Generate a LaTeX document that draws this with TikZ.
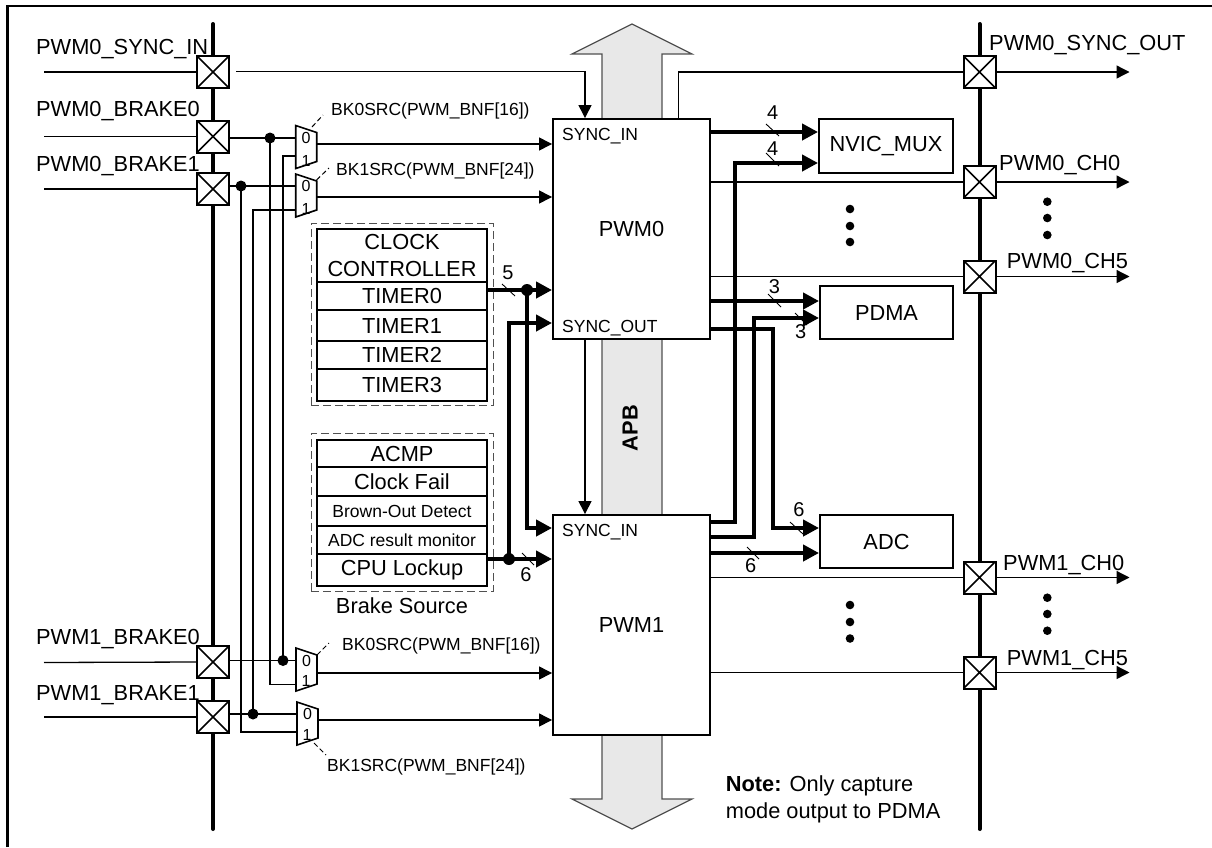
\documentclass[tikz,border=0pt]{standalone}
\usepackage{fontspec}
\setmainfont{Liberation Sans}
\usepackage{tikz}
\usetikzlibrary{shapes,arrows.meta,positioning,calc}
\definecolor{apbgray}{RGB}{232, 232, 232}
\definecolor{apbedge}{RGB}{80, 80, 80}
\newcommand{\bigfont}{\fontsize{21.8}{27.5}\selectfont}
\newcommand{\smallfont}{\fontsize{17.5}{21}\selectfont}
\tikzset{
    thinwire/.style={line width=1.3pt},
    thinarrow/.style={thinwire, -{Triangle[length=13pt, width=13pt]}},
    thickwire/.style={line width=4pt},
    thickarrow/.style={thickwire, -{Triangle[length=16pt, width=16pt]}},
    buswire/.style={line width=4pt, line cap=round},
    slashtick/.style={line width=0.9pt},
    srcdash/.style={line width=1pt, dash pattern=on 5pt off 3pt},
    padbox/.style={draw, fill=white, line width=2pt, minimum size=32pt, inner sep=0pt,
        path picture={\draw[line width=1.5pt] (path picture bounding box.north west) -- (path picture bounding box.south east)
            (path picture bounding box.north east) -- (path picture bounding box.south west);}},
    muxcell/.style={inner sep=0pt, outer sep=0pt, minimum width=21pt, minimum height=43pt,
        append after command={\pgfextra{\draw[line width=1.6pt, fill=white] (\tikzlastnode.north west)
            -- ([yshift=-7pt]\tikzlastnode.north east) -- ([yshift=7pt]\tikzlastnode.south east)
            -- (\tikzlastnode.south west) -- cycle;}}},
    blockbox/.style={draw, fill=white, line width=1.9pt, font=\bigfont, inner sep=0pt},
    rowcell/.style={draw, fill=white, line width=1.9pt, minimum width=170pt, inner sep=0pt, align=center, font=\bigfont},
    srcframe/.style={draw, line width=1pt, color=apbedge, dash pattern=on 8pt off 4pt, minimum width=182pt, inner sep=0pt},
    padlabel/.style={anchor=base west, inner sep=0pt, font=\bigfont},
    selectlabel/.style={anchor=base west, inner sep=0pt, font=\smallfont},
    pinlabel/.style={inner sep=0pt, font=\smallfont},
    muxbit/.style={inner sep=0pt, font=\fontsize{16}{16}\selectfont},
    widthlabel/.style={inner sep=0pt, font=\fontsize{20}{20}\selectfont},
    wiredot/.style={circle, fill=black, inner sep=0pt, minimum size=11pt},
    moredot/.style={circle, fill=black, inner sep=0pt, minimum size=8.6pt}
}

\begin{document}
\begin{tikzpicture}[x=1pt, y=-1pt]
    \useasboundingbox (0, 0) rectangle (1212, 847);

    % Frame
    \draw[line width=2.2pt] (7.5, 847) -- (7.5, 6) -- (1212, 6);

    % Buses
    \draw[buswire] (213, 24) -- (213, 829);
    \draw[buswire] (979.5, 24) -- (979.5, 829);

    % APB arrow
    \draw[line width=1.2pt, color=apbedge, fill=apbgray]
        (632, 24) -- (692, 54) -- (662, 54) -- (662, 799) -- (692, 799) -- (632, 829)
        -- (572, 799) -- (602, 799) -- (602, 54) -- (572, 54) -- cycle;
    \node[rotate=90, font=\bfseries\bigfont, inner sep=0pt] (apblabel) at (630, 428) {APB};

    % Main blocks
    \node[blockbox, minimum width=157pt, minimum height=220pt] (pwma) at (631.5, 229) {PWM0};
    \node[blockbox, minimum width=157pt, minimum height=220pt] (pwmb) at (631.5, 625) {PWM1};
    \node[pinlabel, anchor=base west] (syncina) at (562, 140) {SYNC\_IN};
    \node[pinlabel, anchor=base west] (syncouta) at (562, 332) {SYNC\_OUT};
    \node[pinlabel, anchor=base west] (syncinb) at (562, 536) {SYNC\_IN};

    % Targets
    \node[blockbox, minimum width=134pt, minimum height=53.5pt] (nvic) at (886, 146) {NVIC\_MUX};
    \node[blockbox, minimum width=133pt, minimum height=53pt] (pdma) at (886.5, 312.5) {PDMA};
    \node[blockbox, minimum width=133pt, minimum height=53pt] (adc) at (886.5, 541.5) {ADC};

    % Left pads
    \node[padbox] (syncpad) at (213, 72) {};
    \node[padbox] (brakeaa) at (213, 136.5) {};
    \node[padbox] (brakeab) at (213, 189) {};
    \node[padbox] (brakeba) at (213, 662) {};
    \node[padbox] (brakebb) at (213, 717) {};
    \node[padlabel] (syncpadtext) at (36, 54) {PWM0\_SYNC\_IN};
    \node[padlabel] (brakeaatext) at (36, 116.7) {PWM0\_BRAKE0};
    \node[padlabel] (brakeabtext) at (36, 171.7) {PWM0\_BRAKE1};
    \node[padlabel] (brakebatext) at (36, 644) {PWM1\_BRAKE0};
    \node[padlabel] (brakebbtext) at (36, 700.7) {PWM1\_BRAKE1};
    \coordinate (syncfree) at (44, 72);
    \coordinate (brakeaafree) at (44, 136.5);
    \coordinate (brakeabfree) at (44, 189);
    \coordinate (brakebafree) at (44, 662.5);
    \coordinate (brakebbfree) at (44, 717);
    \draw[thinwire] (syncfree) -- (syncpad.west);
    \draw[thinwire] (brakeaafree) -- (brakeaa.west);
    \draw[thinwire] (brakeabfree) -- (brakeab.west);
    \draw[thinwire] (brakebafree) -- (brakeba.west);
    \draw[thinwire] (brakebbfree) -- (brakebb.west);

    % Right pads
    \node[padbox] (syncoutpad) at (979.5, 72) {};
    \node[padbox] (chaa) at (979.5, 182) {};
    \node[padbox] (chaf) at (979.5, 276.5) {};
    \node[padbox] (chba) at (979.5, 577.5) {};
    \node[padbox] (chbf) at (979.5, 672.5) {};
    \node[padlabel] (syncouttext) at (989, 50) {PWM0\_SYNC\_OUT};
    \node[padlabel] (chaatext) at (999, 170.7) {PWM0\_CH0};
    \node[padlabel] (chaftext) at (1006.7, 268) {PWM0\_CH5};
    \node[padlabel] (chbatext) at (1003, 570.7) {PWM1\_CH0};
    \node[padlabel] (chbftext) at (1006.7, 665) {PWM1\_CH5};
    \coordinate (syncoutfree) at (1129.5, 72);
    \coordinate (chaafree) at (1129.5, 182);
    \coordinate (chaffree) at (1129.5, 276.5);
    \coordinate (chbafree) at (1129.5, 577.5);
    \coordinate (chbffree) at (1129.5, 672.5);
    \draw[thinarrow] (syncoutpad.east) -- (syncoutfree);
    \draw[thinarrow] (chaa.east) -- (chaafree);
    \draw[thinarrow] (chaf.east) -- (chaffree);
    \draw[thinarrow] (chba.east) -- (chbafree);
    \draw[thinarrow] (chbf.east) -- (chbffree);

    % Channel lines and sync lines
    \coordinate (syncfrom) at (236, 71.5);
    \draw[thinarrow] (syncfrom) -| (pwma.north -| 585, 0);
    \draw[thinwire] (678.5, 0 |- pwma.north) |- (syncoutpad.west);
    \draw[thinwire] (pwma.east |- chaa.west) -- (chaa.west);
    \draw[thinwire] (pwma.east |- chaf.west) -- (chaf.west);
    \draw[thinwire] (pwmb.east |- chba.west) -- (chba.west);
    \draw[thinwire] (pwmb.east |- chbf.west) -- (chbf.west);
    \draw[thinarrow] (585, 0 |- pwma.south) -- (585, 0 |- pwmb.north);

    % Muxes
    \node[muxcell] (muxaa) at (306.2, 147) {};
    \node[muxcell] (muxab) at (306.2, 195.5) {};
    \node[muxcell] (muxba) at (306.5, 669.5) {};
    \node[muxcell] (muxbb) at (307.5, 723.5) {};
    \node[muxbit] (bitaa) at (306, 138) {0};
    \node[muxbit] (bitab) at (306, 161) {1};
    \node[muxbit] (bitac) at (306, 186) {0};
    \node[muxbit] (bitad) at (306, 209) {1};
    \node[muxbit] (bitba) at (306.5, 661) {0};
    \node[muxbit] (bitbb) at (306, 681) {1};
    \node[muxbit] (bitbc) at (307.5, 714) {0};
    \node[muxbit] (bitbd) at (307, 735) {1};
    \draw[thinwire] (brakeaa.east |- 0, 138) -- (muxaa.west |- 0, 138);
    \draw[thinwire] (brakeab.east |- 0, 186) -- (muxab.west |- 0, 186);
    \draw[thinwire] (brakeba.east |- 0, 660.5) -- (muxba.west |- 0, 660.5);
    \draw[thinwire] (brakebb.east |- 0, 714) -- (muxbb.west |- 0, 714);
    \node[wiredot] (dotaa) at (270, 138) {};
    \node[wiredot] (dotab) at (241, 186) {};
    \node[wiredot] (dotba) at (283, 660.5) {};
    \node[wiredot] (dotbb) at (253, 714) {};
    \draw[thinwire] (dotaa.center) |- (muxba.west |- 0, 684.5);
    \draw[thinwire] (dotab.center) |- (muxbb.west |- 0, 732);
    \draw[thinwire] (dotba.center) |- (muxaa.west |- 0, 156);
    \draw[thinwire] (dotbb.center) |- (muxab.west |- 0, 210);
    \draw[thinarrow] (muxaa.east |- 0, 144) -- (pwma.west |- 0, 144);
    \draw[thinarrow] (muxab.east |- 0, 197) -- (pwma.west |- 0, 197);
    \draw[thinarrow] (muxba.east |- 0, 673) -- (pwmb.west |- 0, 673);
    \draw[thinarrow] (muxbb.east |- 0, 720) -- (pwmb.west |- 0, 720);

    % Mux select labels
    \node[selectlabel] (selaa) at (331, 115) {BK0SRC(PWM\_BNF[16])};
    \node[selectlabel] (selab) at (336, 175) {BK1SRC(PWM\_BNF[24])};
    \node[selectlabel] (selba) at (342, 650) {BK0SRC(PWM\_BNF[16])};
    \node[selectlabel] (selbb) at (327, 771) {BK1SRC(PWM\_BNF[24])};
    \draw[srcdash] (312, 127) -- (323, 115);
    \draw[srcdash] (316.5, 180) -- (329, 168);
    \draw[srcdash] (317, 655) -- (329, 643);
    \draw[srcdash] (314, 743) -- (326, 755);

    % Timer source
    \node[srcframe, minimum height=182pt] (timerframe) at (402, 314) {};
    \node[rowcell, minimum height=53pt] (clockrow) at (402, 255.5) {CLOCK\\[-0.5pt]CONTROLLER};
    \node[rowcell, minimum height=28pt] (timerzero) at (402, 296) {TIMER0};
    \node[rowcell, minimum height=31pt] (timerone) at (402, 325.5) {TIMER1};
    \node[rowcell, minimum height=28pt] (timertwo) at (402, 355) {TIMER2};
    \node[rowcell, minimum height=32pt] (timerthree) at (402, 385) {TIMER3};

    % Brake source
    \node[srcframe, minimum height=158pt] (brakeframe) at (402, 512) {};
    \node[rowcell, minimum height=27pt] (acmprow) at (402, 453.5) {ACMP};
    \node[rowcell, minimum height=29pt] (failrow) at (402, 481.5) {Clock Fail};
    \node[rowcell, minimum height=30pt, font=\smallfont] (brownrow) at (402, 511) {Brown-Out Detect};
    \node[rowcell, minimum height=28pt, font=\smallfont] (monitorrow) at (402, 540) {ADC result monitor};
    \node[rowcell, minimum height=32pt] (lockrow) at (402, 570) {CPU Lockup};
    \node[font=\bigfont, inner sep=0pt] (braketext) at (402, 606) {Brake Source};

    % Source buses to the blocks
    \node[wiredot, minimum size=12pt] (dotfive) at (527, 290) {};
    \node[wiredot, minimum size=12pt] (dotsix) at (509, 559) {};
    \draw[thickarrow] (timerzero.east |- dotfive) -- (pwma.west |- dotfive);
    \draw[thickarrow] (lockrow.east |- dotsix) -- (pwmb.west |- dotsix);
    \draw[thickarrow] (dotfive.center) |- (pwmb.west |- 0, 528);
    \draw[thickarrow] (dotsix.center) |- (pwma.west |- 0, 323);

    % Buses to the targets
    \draw[thickarrow] (pwma.east |- 0, 132) -- (nvic.west |- 0, 132);
    \draw[thickarrow] (pwmb.east |- 0, 522) -| (735, 163) -- (nvic.west |- 0, 163);
    \draw[thickarrow] (pwma.east |- 0, 301) -- (pdma.west |- 0, 301);
    \draw[thickarrow] (pwmb.east |- 0, 537) -| (754, 318) -- (pdma.west |- 0, 318);
    \draw[thickarrow] (pwma.east |- 0, 329) -| (773, 528) -- (adc.west |- 0, 528);
    \draw[thickarrow] (pwmb.east |- 0, 553) -- (adc.west |- 0, 553);

    % Bus width marks
    \draw[slashtick] (502, 284) -- (515, 296);
    \draw[slashtick] (522, 553) -- (534, 565);
    \draw[slashtick] (766, 124) -- (779, 136);
    \draw[slashtick] (766, 153) -- (779, 166);
    \draw[slashtick] (768, 294) -- (781, 307);
    \draw[slashtick] (795, 313) -- (807, 325);
    \draw[slashtick] (790, 522) -- (803, 534);
    \draw[slashtick] (747, 547) -- (759, 559);
    \node[widthlabel] (widthfive) at (508, 273) {5};
    \node[widthlabel] (widthsixa) at (526, 575) {6};
    \node[widthlabel] (widthfoura) at (772.7, 113) {4};
    \node[widthlabel] (widthfourb) at (772.7, 149) {4};
    \node[widthlabel] (widththreea) at (774.5, 287) {3};
    \node[widthlabel] (widththreeb) at (800.7, 332) {3};
    \node[widthlabel] (widthsixb) at (799, 510) {6};
    \node[widthlabel] (widthsixc) at (750.7, 566) {6};

    % More channels
    \node[moredot] (morea) at (850, 209) {};
    \node[moredot] (moreb) at (850, 226) {};
    \node[moredot] (morec) at (850, 242) {};
    \node[moredot] (mored) at (1047.3, 201.7) {};
    \node[moredot] (moree) at (1047.3, 218) {};
    \node[moredot] (moref) at (1047.3, 235) {};
    \node[moredot] (moreg) at (850, 605) {};
    \node[moredot] (moreh) at (850, 622) {};
    \node[moredot] (morei) at (850, 638.5) {};
    \node[moredot] (morej) at (1047.3, 597.7) {};
    \node[moredot] (morek) at (1047.3, 614) {};
    \node[moredot] (morel) at (1047.3, 630.7) {};

    % Note
    \node[padlabel, align=left, anchor=north west] (notetext) at (725.7, 775) {\textbf{Note:} Only capture\\mode output to PDMA};
\end{tikzpicture}
\end{document}
